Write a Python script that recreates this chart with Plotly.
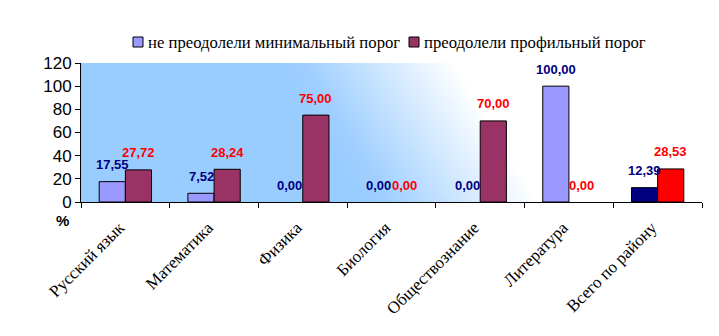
import base64
import plotly.graph_objects as go

categories = ["Русский язык", "Математика", "Физика", "Биология",
              "Обществознание", "Литература", "Всего по району"]
not_min = [17.55, 7.52, 0.00, 0.00, 0.00, 100.00, 12.39]
passed_prof = [27.72, 28.24, 75.00, 0.00, 70.00, 0.00, 28.53]
series_names = ["не преодолели минимальный порог", "преодолели профильный порог"]
y_ticks = [0, 20, 40, 60, 80, 100, 120]

c1 = ["#9999FF"] * 6 + ["#000080"]
c2 = ["#993366"] * 6 + ["#FF0000"]

SERIF = "Liberation Serif"

L, R, T, B = 81, 702, 63, 202
W, H = R - L, B - T

def px_x(p):
    return (p - L) / W

def px_y(p):
    return (B - p) / H

def fmt(v):
    return f"{v:.2f}".replace(".", ",")

svg = ('<svg xmlns="http://www.w3.org/2000/svg" width="621" height="139" viewBox="0 0 621 139" preserveAspectRatio="none">'
       '<defs><linearGradient id="g" gradientUnits="userSpaceOnUse" x1="262" y1="109" x2="392" y2="30">'
       '<stop offset="0" stop-color="#99CCFF"/><stop offset="0.15" stop-color="#9FCFFF"/>'
       '<stop offset="1" stop-color="#FFFFFF"/></linearGradient></defs>'
       '<rect width="621" height="139" fill="url(#g)"/></svg>')
src = "data:image/svg+xml;base64," + base64.b64encode(svg.encode()).decode()

fig = go.Figure()
fig.add_trace(go.Bar(x=categories, y=not_min, name=series_names[0],
                     marker=dict(color=c1, line=dict(color="black",
                                 width=[1 if v > 0 else 0 for v in not_min]))))
fig.add_trace(go.Bar(x=categories, y=passed_prof, name=series_names[1],
                     marker=dict(color=c2, line=dict(color="black",
                                 width=[1 if v > 0 else 0 for v in passed_prof]))))

ann = []
for i, cat in enumerate(categories):
    ann.append(dict(x=cat, y=not_min[i], text=fmt(not_min[i]), showarrow=False,
                    xshift=-13, yshift=17, yanchor="middle",
                    font=dict(family="Liberation Sans", size=13, color="#000080", weight="bold")))
    ann.append(dict(x=cat, y=passed_prof[i], text=fmt(passed_prof[i]), showarrow=False,
                    xshift=13, yshift=17, yanchor="middle",
                    font=dict(family="Liberation Sans", size=13, color="#FF0000", weight="bold")))
ann.append(dict(xref="paper", yref="paper", x=px_x(62), y=px_y(220), text="%", showarrow=False,
                xanchor="center", yanchor="middle",
                font=dict(family="Liberation Sans", size=15, color="black", weight="bold")))

# legend drawn as squares + text
leg_sq = [133, 409]
leg_fill = ["#9999FF", "#993366"]
shapes = []
for xs, col, name in zip(leg_sq, leg_fill, series_names):
    shapes.append(dict(type="rect", xref="paper", yref="paper",
                       x0=px_x(xs), x1=px_x(xs + 10), y0=px_y(47), y1=px_y(37),
                       fillcolor=col, line=dict(color="black", width=1)))
    ann.append(dict(xref="paper", yref="paper", x=px_x(xs + 13), y=px_y(42), text=name,
                    showarrow=False, xanchor="left", yanchor="middle",
                    font=dict(family=SERIF, size=16.7, color="black")))

fig.update_layout(
    width=719, height=336,
    margin=dict(l=L, r=719 - R, t=T, b=336 - B),
    paper_bgcolor="white", plot_bgcolor="rgba(0,0,0,0)",
    barmode="group", bargap=0.41, bargroupgap=0,
    showlegend=False,
    annotations=ann,
    shapes=shapes,
    images=[dict(source=src, xref="paper", yref="paper", x=0, y=1, sizex=1, sizey=1,
                 sizing="stretch", layer="below", xanchor="left", yanchor="top")],
    font=dict(family="Liberation Sans", color="black"),
)
fig.update_yaxes(range=[0, 120], tickvals=y_ticks, showgrid=False, zeroline=False,
                 showline=True, linecolor="black", linewidth=1, ticks="outside",
                 ticklen=5, tickcolor="black",
                 tickfont=dict(family="Liberation Sans", size=17, color="black"))
fig.update_xaxes(showgrid=False, showline=True, linecolor="black", linewidth=1,
                 ticks="outside", tickson="boundaries", ticklen=5, tickcolor="black",
                 tickangle=-45, ticklabelstandoff=8, ticklabelshift=-6,
                 tickfont=dict(family=SERIF, size=17, color="black"))

fig.write_html("out.html")
